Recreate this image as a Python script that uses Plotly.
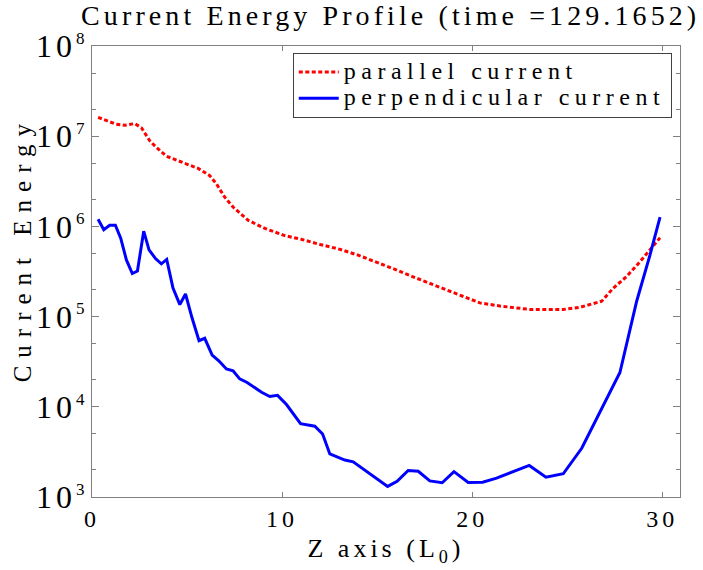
import plotly.graph_objects as go

# Z positions (in L0) and current energies
z_par = [0.32, 0.8, 1.25, 1.72, 2.25, 2.6, 3.04, 3.39, 3.92, 4.88, 5.58, 6.19, 6.55,
         6.98, 7.42, 8.21, 9.09, 10.14, 11.0, 12.0, 13.0, 14.0, 15.0, 16.0, 17.0,
         18.0, 19.0, 20.4, 21.46, 23.04, 24.79, 25.67, 26.81, 27.42, 28.13, 28.83, 29.88]
e_par = [1.62e7, 1.48e7, 1.36e7, 1.32e7, 1.38e7, 1.24e7, 8.9e6, 7.5e6, 6.0e6, 5.0e6,
         4.4e6, 3.66e6, 2.95e6, 2.11e6, 1.64e6, 1.17e6, 9.5e5, 7.9e5, 7.2e5, 6.3e5,
         5.6e5, 4.8e5, 4.0e5, 3.3e5, 2.7e5, 2.24e5, 1.86e5, 1.42e5, 1.31e5, 1.20e5,
         1.20e5, 1.27e5, 1.48e5, 2.07e5, 2.79e5, 4.07e5, 7.48e5]

z_perp = [0.32, 0.62, 0.93, 1.23, 1.51, 1.81, 2.12, 2.39, 2.72, 3.0, 3.34, 3.65, 3.93,
          4.26, 4.62, 4.92, 5.26, 5.63, 5.93, 6.32, 6.67, 7.07, 7.42, 7.77, 8.16,
          8.56, 8.92, 9.35, 9.76, 10.23, 10.97, 11.72, 12.13, 12.51, 13.3, 13.74,
          15.55, 16.05, 16.63, 17.16, 17.77, 18.42, 19.04, 19.79, 20.55, 21.28, 23.0,
          23.88, 24.79, 25.76, 26.81, 27.77, 28.65, 29.35, 29.88]
e_perp = [1.20e6, 9.2e5, 1.03e6, 1.03e6, 7.4e5, 4.25e5, 3.0e5, 3.2e5, 8.85e5, 5.5e5,
          4.4e5, 3.85e5, 4.3e5, 2.07e5, 1.36e5, 1.78e5, 9.7e4, 5.4e4, 5.75e4, 3.75e4,
          3.24e4, 2.63e4, 2.5e4, 2.04e4, 1.86e4, 1.62e4, 1.45e4, 1.30e4, 1.34e4,
          1.06e4, 6.5e3, 6.1e3, 5.0e3, 3.0e3, 2.57e3, 2.45e3, 1.31e3, 1.49e3, 1.97e3,
          1.93e3, 1.51e3, 1.44e3, 1.91e3, 1.45e3, 1.46e3, 1.62e3, 2.24e3, 1.66e3,
          1.81e3, 3.47e3, 9.5e3, 2.4e4, 1.48e5, 4.8e5, 1.27e6]

x_ticks = [0, 10, 20, 30]
y_exponents = [3, 4, 5, 6, 7, 8]

FONT = "Liberation Serif"


def spaced(text, px, size=None):
    style = f"letter-spacing:{px}px"
    if size:
        style += f";font-size:{size}px"
    return f"<span style='{style}'>{text}</span>"


def power_label(exp):
    return spaced("10", 4) + f"<sup><span style='font-size:17px'>{exp}</span></sup>"


fig = go.Figure()
fig.add_trace(go.Scatter(
    x=z_par, y=e_par, mode="lines", name=spaced("parallel current", 5.5, 24),
    line=dict(color="#ff0000", width=3, dash="4px,2.5px"),
))
fig.add_trace(go.Scatter(
    x=z_perp, y=e_perp, mode="lines", name=spaced("perpendicular current", 5.5, 24),
    line=dict(color="#0000ff", width=3),
))

axis_color = "#808080"

fig.update_layout(
    width=703, height=570,
    margin=dict(l=92, r=23, t=46, b=69),
    paper_bgcolor="white", plot_bgcolor="white",
    font=dict(family=FONT, color="black"),
    title=dict(
        text=spaced("Current Energy Profile (time =129.1652)", 4.1),
        font=dict(size=28, family=FONT, color="black"),
        x=0.508, xref="paper", xanchor="center",
        y=1 - 15 / 570, yref="container", yanchor="middle",
    ),
    showlegend=True,
    legend=dict(
        x=0.986, y=0.985, xanchor="right", yanchor="top",
        bgcolor="white", bordercolor="#404040", borderwidth=1,
        font=dict(size=18, family=FONT, color="black"),
        itemwidth=40, tracegroupgap=0,
    ),
    xaxis=dict(
        range=[0, 30.93], showgrid=False, zeroline=False,
        showline=True, linecolor=axis_color, linewidth=1, mirror="ticks",
        ticks="inside", ticklen=5, tickcolor=axis_color,
        tickvals=x_ticks, ticktext=[spaced(str(v), 4) for v in x_ticks],
        tickfont=dict(size=24, family=FONT, color="black"),
        title=dict(text=spaced("Z axis (L<sub>0</sub>)", 4),
                   font=dict(size=26, family=FONT, color="black"), standoff=8),
    ),
    yaxis=dict(
        type="log", range=[3, 8], showgrid=False, zeroline=False,
        showline=True, linecolor=axis_color, linewidth=1, mirror="ticks",
        ticks="inside", ticklen=7, tickcolor=axis_color,
        tickvals=[10 ** e for e in y_exponents],
        ticktext=[power_label(e) for e in y_exponents],
        tickfont=dict(size=32, family=FONT, color="black"),
        minor=dict(ticks="inside", ticklen=4, tickcolor=axis_color, showgrid=False),
    ),
    annotations=[dict(
        text=spaced("Current Energy", 8),
        textangle=-90, showarrow=False,
        xref="paper", yref="paper",
        x=(22 - 92) / 588, y=(500.7 - 251) / 454.7,
        xanchor="center", yanchor="middle",
        font=dict(size=25, family=FONT, color="black"),
    )],
)

fig.write_html("out.html")
